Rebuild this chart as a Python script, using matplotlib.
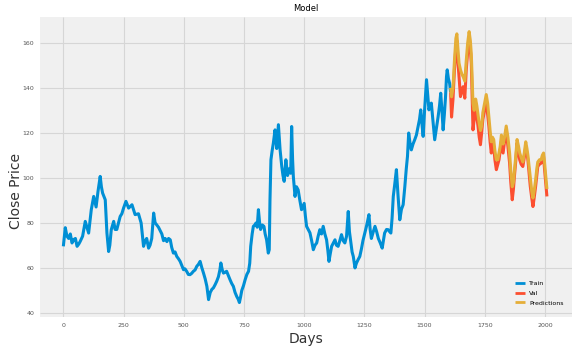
import matplotlib
matplotlib.use("Agg")
import matplotlib.pyplot as plt

# ---- data ----
train_days = [0, 8, 15, 22, 29, 36, 43, 50, 57, 64, 70, 80, 91, 98, 105, 116, 126, 136, 144, 153, 158, 163,
              174, 181, 188, 193, 199, 209, 215, 222, 229, 236, 243, 250, 260, 271, 285, 298, 312, 323, 333,
              340, 346, 354, 360, 367, 375, 381, 388, 395, 402, 409, 416, 423, 430, 437, 444, 450, 457, 464,
              471, 478, 485, 492, 499, 505, 512, 519, 526, 533, 540, 547, 554, 561, 568, 575, 582, 589, 596,
              603, 610, 617, 623, 630, 637, 644, 650, 654, 660, 665, 672, 678, 685, 692, 699, 706, 713, 720,
              726, 731, 736, 741, 748, 755, 762, 769, 774, 778, 784, 789, 795, 800, 805, 810, 815, 819, 826,
              833, 838, 844, 851, 855, 858, 862, 867, 872, 879, 886, 893, 900, 907, 912, 917, 924, 931, 938,
              944, 948, 952, 955, 962, 968, 975, 982, 989, 1000, 1005, 1010, 1017, 1024, 1031, 1038, 1045,
              1052, 1058, 1065, 1072, 1079, 1086, 1093, 1098, 1103, 1108, 1114, 1121, 1128, 1134, 1141, 1148,
              1155, 1162, 1169, 1176, 1183, 1188, 1194, 1199, 1204, 1211, 1217, 1224, 1231, 1238, 1244, 1252,
              1260, 1269, 1274, 1279, 1287, 1294, 1301, 1308, 1316, 1324, 1329, 1334, 1342, 1349, 1355, 1360,
              1365, 1370, 1376, 1383, 1390, 1397, 1404, 1411, 1418, 1424, 1429, 1434, 1440, 1445, 1452, 1459,
              1466, 1473, 1479, 1484, 1489, 1494, 1500, 1508, 1513, 1518, 1523, 1528, 1535, 1542, 1549, 1556,
              1562, 1567, 1572, 1577, 1582, 1587, 1591, 1594, 1599, 1604, 1608]
train_close = [69.5, 77.8, 74, 73, 75, 71, 72.5, 73, 69.5, 70.5, 71.7, 74, 80.6, 78, 75.4, 85.8, 91.7, 87, 94,
               100.6, 96, 93.2, 90.2, 75.4, 67.2, 70, 76.9, 80.6, 77, 77, 80, 82.8, 84, 86.5, 89.5, 86.5, 88,
               83.6, 84, 79.9, 69.5, 72, 73, 68.7, 70, 73, 84.3, 80, 79, 78, 76.5, 75, 72, 73, 71.6, 73, 72.4,
               69, 66.5, 67, 65, 64, 62.8, 61, 59.1, 59.5, 58.4, 57, 56.9, 57.5, 58.4, 59, 60.6, 61.5, 62.8, 60,
               57.6, 55, 51.7, 45.8, 49, 50.4, 51, 52.4, 54, 56, 59, 62.1, 59, 57.6, 58, 58.4, 56.5, 54.7, 53,
               51.7, 49, 47.2, 46, 44.5, 47, 49.9, 52, 54.7, 57, 58.4, 62, 69.5, 75, 78.4, 79, 79.9, 78, 85.8,
               80, 77, 79, 78.4, 75, 72.4, 66.5, 68, 90, 108, 112, 115.4, 121.3, 113, 123.6, 112.4, 105, 101,
               98.4, 108, 101, 104, 102, 122.8, 108, 100.6, 91.7, 96, 94.6, 90, 85.8, 88.6, 83, 78.4, 77, 75.5,
               72, 68, 70, 71, 74, 76.9, 75, 78.4, 75, 72.4, 68, 62.8, 66, 69.5, 71, 72.4, 70, 69.5, 72, 74.7,
               72, 71, 74, 85, 76, 71, 67, 65, 59.9, 62, 63.6, 65, 68.5, 72, 75.4, 79, 83.6, 77, 73, 76, 78.4,
               76, 73, 71, 68.7, 72, 75.4, 77, 76.9, 76, 75.4, 82, 91.7, 97, 103.6, 91.7, 81.3, 86, 88, 96.1,
               104, 109.5, 119.9, 115, 112.4, 115, 116.9, 119, 122.8, 126, 130.2, 124, 118.4, 130, 143.6, 137,
               130.2, 132, 133.2, 125, 116.9, 122, 127, 132, 137.6, 130, 121.3, 128, 136, 145, 148, 144, 142, 138]

valid_days = [1608, 1612, 1618, 1624, 1630, 1634, 1638, 1643, 1649, 1655, 1660, 1667, 1673, 1679, 1685, 1690,
              1694, 1701, 1706, 1712, 1717, 1722, 1727, 1732, 1737, 1742, 1749, 1756, 1762, 1767, 1772, 1777,
              1782, 1787, 1792, 1798, 1804, 1809, 1814, 1819, 1826, 1832, 1839, 1846, 1853, 1858, 1864, 1869,
              1873, 1879, 1884, 1890, 1895, 1901, 1908, 1914, 1920, 1925, 1929, 1934, 1939, 1945, 1950, 1955,
              1961, 1966, 1970, 1977, 1984, 1989, 1994, 1998, 2002, 2008]
valid_close = [138, 127, 135, 148, 158.4, 161, 152, 145, 136.1, 139, 140.5, 135.4, 148, 156, 162.5, 157, 151,
               121.3, 126, 131.7, 127, 122.8, 118, 114.7, 120, 126, 130, 134.7, 128, 122.8, 116, 111, 115, 114,
               108, 103.6, 106, 108, 112, 116.1, 111, 116, 121.3, 114, 106.5, 98, 90.2, 95, 100.6, 108, 115.4,
               111, 108, 106, 105, 109, 113.9, 111, 108, 102, 96.1, 91, 87.2, 91, 96.1, 101, 105, 106, 106.5,
               108, 109.5, 104, 99, 91.7]
pred_close = [140, 136, 140, 152, 162, 164, 158, 151, 148, 146, 145, 143, 152, 160, 165, 161, 155, 133, 130,
              135, 132, 128, 124, 121, 123, 129, 133, 137, 133, 127, 121, 116, 118, 117, 112, 108, 108, 111,
              114, 119, 115, 118, 123, 118, 111, 103, 96, 98, 103, 110, 117, 114, 111, 109, 107, 111, 116, 113,
              110, 105, 100, 94, 91, 94, 99, 104, 107, 108, 108, 110, 111, 107, 102, 95]

x_ticks = [0, 250, 500, 750, 1000, 1250, 1500, 1750, 2000]
y_ticks = [40, 60, 80, 100, 120, 140, 160]

# ---- drawing ----
plt.style.use("fivethirtyeight")
fig = plt.figure(figsize=(5.76, 3.47), dpi=100, facecolor="white")
ax = fig.add_axes([0.069, 0.086, 0.924, 0.865])
ax.set_facecolor("#f0f0f0")

lw = 2.2
ax.plot(train_days, train_close, color="#008fd5", lw=lw, label="Train")
ax.plot(valid_days, valid_close, color="#fc4f30", lw=lw, label="Val")
ax.plot(valid_days, pred_close, color="#e5ae38", lw=lw, label="Predictions")

ax.set_xlim(-98, 2112)
ax.set_ylim(38.0, 171.5)
ax.set_xticks(x_ticks)
ax.set_yticks(y_ticks)
ax.tick_params(axis="both", labelsize=4.5, colors="#555555", length=0, pad=4)
ax.grid(True, color="#d6d6d6", lw=0.8)
for s in ax.spines.values():
    s.set_visible(False)

ax.set_title("Model", fontsize=6, pad=4)
ax.set_xlabel("Days", fontsize=10, color="#333333", labelpad=3)
ax.set_ylabel("Close Price", fontsize=10, color="#333333")
ax.yaxis.set_label_coords(-0.031, 0.42)

leg = ax.legend(loc="lower right", fontsize=4.5, frameon=False, handlelength=1.6,
                handletextpad=0.6, labelspacing=0.7, bbox_to_anchor=(0.995, 0.02))
for line in leg.get_lines():
    line.set_linewidth(2.0)

fig.savefig("out.png", dpi=100, facecolor="white")
